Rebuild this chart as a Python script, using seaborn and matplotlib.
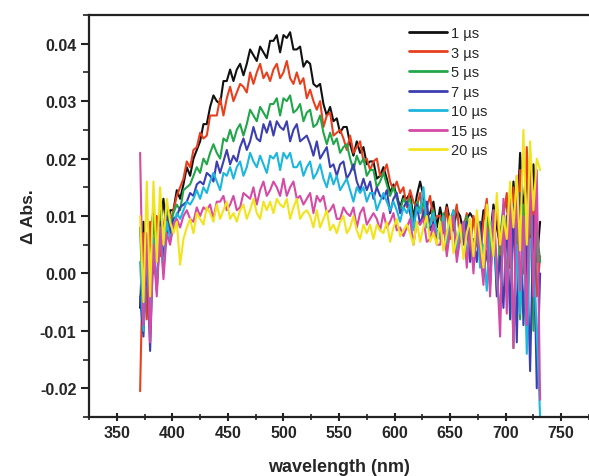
import numpy as np
import pandas as pd
import matplotlib
matplotlib.use("Agg")
import matplotlib.pyplot as plt
import seaborn as sns
from matplotlib.lines import Line2D

# wavelength grid (nm), 3 nm steps
wavelength = list(range(371, 732, 3))

# Delta Abs values in mAbs (x 1e-3); one row per 30 nm
abs_1us = [-6, 9, -2, 6, 11, 2, 8, 13, 7, 11,
           11, 14.5, 13, 15.5, 18.5, 17, 20, 21.5, 23, 26,
           26, 29, 31, 30, 29.5, 33.5, 33.5, 35.5, 33.5, 35.5,
           36.5, 34.5, 36.5, 39, 38, 37, 39.5, 38.5, 37.5, 40.5,
           40.5, 41.5, 38.5, 41.5, 41, 42, 39, 39, 39.5, 36,
           37, 36.5, 33, 32.5, 33, 29.5, 27.5, 29, 26.5, 27,
           24.5, 25.5, 25.5, 22.5, 20.5, 23, 21, 22, 19, 19.5,
           19.5, 16.5, 17, 18.5, 16.5, 14, 15.5, 13.5, 11.5, 13.5,
           13, 14, 9.5, 13.5, 16, 13.5, 10, 10.5, 12.5, 8,
           11.5, 8.5, 12, 9, 7.5, 11, 10, 7, 9.5, 10.5,
           9.5, 7, 5.5, 11, 10, 6, 12, 8, 5, 11,
           13, 4, 16, 8, 21, 11, 17, 6, 19, 2,
           9]
abs_3us = [-20.5, 7, -8, 9, 0, 10, 3, 8, 12, 9,
           11, 13.5, 15, 16.5, 19.5, 18.5, 21.5, 22, 24.5, 23.5,
           24, 27.5, 27.5, 27.5, 30.5, 27.5, 30.5, 32.5, 30, 31.5,
           33, 32.5, 31.5, 35, 33, 35, 36.5, 34, 35, 33.5,
           35.5, 36.5, 34, 35, 37, 34, 33, 35, 33, 34,
           30.5, 32, 30, 28.5, 30, 25.5, 27.5, 28, 24, 24.5,
           25, 23.5, 21.5, 24, 21, 22, 23, 19.5, 20, 18,
           19.5, 20, 17, 17.5, 19, 16, 14.5, 16, 14, 15,
           11.5, 14.5, 12.5, 11.5, 14, 9, 11.5, 13.5, 9, 10,
           10, 7, 11.5, 6, 9, 12, 5.5, 8, 10.5, 4,
           10, 5, 3, 9, 13, 4, 7, 12, 2, 10,
           14, 1, 15, 4, 18, 0, 22, 7, 13, -4,
           3]
abs_5us = [8, -8, 5, -6, 10, 3, 11, 6, 12, 8,
           10.5, 12, 11, 14.5, 15, 15.5, 17, 18.5, 17.5, 20,
           19, 21, 22.5, 21, 20, 23.5, 23, 25, 23, 25,
           26, 24, 26, 28.5, 27.5, 26.5, 29, 28, 27, 29.5,
           29.5, 30.5, 27.5, 30.5, 30, 31, 28, 28.5, 29.5, 26.5,
           28, 28.5, 25.5, 26, 27.5, 24.5, 22.5, 24.5, 22.5, 23.5,
           21, 22, 22.5, 20, 18, 20.5, 19, 20, 17, 18,
           18, 15, 16, 17.5, 15.5, 13.5, 15, 13, 11, 13,
           12, 13, 8, 12.5, 11, 12.5, 8.5, 9, 11, 7,
           8, 10.5, 5, 9, 11, 4, 8.5, 6, 10, 3,
           4, 9, 7, 0, 10, 2, 11, -3, 6, 12,
           -3, 13, -13, 9, -8, 12, -4, 15, -10, 8,
           2]
abs_7us = [-4, -11, 3, -13.5, 6, -3, 9, 2, 10, 7,
           9.5, 10, 11.5, 12, 12.5, 14, 13.5, 15.5, 16, 15.5,
           17.5, 17, 16, 19.5, 17.5, 19.5, 21.5, 19, 20.5, 19.5,
           22, 23.5, 21.5, 23, 25.5, 23.5, 23, 26, 24.5, 26.5,
           24, 26.5, 25.5, 25, 26.5, 23, 25, 26, 23, 23.5,
           24, 22.5, 20.5, 23, 20, 21, 22, 18.5, 19, 17,
           19, 19.5, 16.5, 17.5, 19, 16, 14.5, 16.5, 14.5, 16,
           13, 15, 13.5, 13, 14.5, 10.5, 13, 14, 10.5, 11.5,
           12.5, 10.5, 8, 12, 8.5, 10.5, 12.5, 7.5, 9, 6,
           7, 9.5, 4, 8, 10, 3, 7.5, 5, 9, 2,
           6, 2, 9, 0, 4, -2, 10, -4, 3, -6,
           10, -8, 12, -12, 14, -9, 6, -17, 10, -20,
           0]
abs_10us = [2, -10, 5, -9, 6, -3, 8, 0, 9, 6,
            8, 10.5, 9.5, 11, 12.5, 12, 13, 14.5, 13, 15,
            14, 16, 17.5, 16, 14.5, 17.5, 17, 18.5, 16.5, 18.5,
            19.5, 17, 18.5, 21, 19.5, 18.5, 20.5, 19, 17.5, 20.5,
            20, 21, 18, 21, 20, 21, 18.5, 18.5, 19.5, 17,
            18.5, 19.5, 16.5, 17.5, 19, 16.5, 15, 17.5, 15.5, 17,
            14.5, 15.5, 16.5, 14.5, 12.5, 15, 14, 15, 12.5, 14,
            14, 11, 12.5, 14, 12.5, 11, 12.5, 11, 9, 11.5,
            10.5, 12, 7.5, 11.5, 10.5, 15, 8, 8.5, 10.5, 7,
            6, 10, 5, 8.5, 11, 4, 7.5, 9, 3, 7,
            3, 9, 1, 5, -3, 7, 10, -1, -7, 8,
            -4, 9, -11, 5, -7, 10, -14, 6, 3, -10,
            -25]
abs_15us = [21, -9, 7, -12, 5, -4, 8, -1, 7, 5,
            8.5, 9.5, 8, 10, 11, 9.5, 9, 11.5, 10, 11.5,
            11, 12, 9.5, 12.5, 12.5, 13.5, 11, 12, 13.5, 11,
            11.5, 14, 13.5, 13, 15, 12, 14.5, 16, 13.5, 14.5,
            16, 15, 13.5, 16.5, 13.5, 15, 16, 13, 13.5, 12,
            13, 14, 10.5, 13.5, 12.5, 13.5, 10.5, 11, 12, 9.5,
            9.5, 11.5, 10.5, 10, 11.5, 8, 10.5, 11.5, 8.5, 9.5,
            10.5, 9.5, 7.5, 10.5, 8, 9, 10.5, 7.5, 8, 6.5,
            8, 9.5, 5, 9, 8.5, 9.5, 5.5, 6, 8.5, 5,
            5, 9, 3, 7.5, 10, 2, 6, 9, 1, 8,
            0, 9, 4, -2, 8, -4, 11, 2, -11, 13,
            -7, 14, -13, 17, -3, 10, -9, 20, -4, 18,
            -22]
abs_20us = [10, -5, 16, -4, 16, 2, 15, 5, 13, 9,
            7, 9, 1.5, 6, 8, 9.5, 7, 10.5, 9.5, 8.5,
            11.5, 10.5, 9, 12, 9.5, 11, 12.5, 9.5, 10.5, 9,
            11, 12, 9.5, 11, 13, 10.5, 9.5, 12.5, 11, 12.5,
            10.5, 13, 12, 11.5, 13, 9.5, 11.5, 13, 9.5, 10.5,
            11, 10, 8, 11, 8, 9.5, 11, 7.5, 8.5, 7,
            9, 10, 7, 8, 10, 7.5, 6, 8.5, 7, 8.5,
            6, 8.5, 7.5, 7, 9, 5.5, 8, 9.5, 6.5, 7.5,
            8.5, 7, 5, 9, 5.5, 8, 10, 5.5, 7, 5,
            9, 4, 7, 10, 3.5, 6, 8.5, 2.5, 7, 9.5,
            3, 11, 6, 1, 12, 8, 3, 14, 5, 10,
            6, 16, 8, 17, 4, 25, 5, 23, 11, 20,
            18]

labels = ["1 \u00b5s", "3 \u00b5s", "5 \u00b5s", "7 \u00b5s", "10 \u00b5s", "15 \u00b5s", "20 \u00b5s"]
series = [abs_1us, abs_3us, abs_5us, abs_7us, abs_10us, abs_15us, abs_20us]
colors = ["#111111", "#e8401e", "#22a64a", "#3b3fb0", "#1db6dc", "#d54aa6", "#f2e41c"]

frames = []
for lab, vals in zip(labels, series):
    frames.append(pd.DataFrame({"wavelength": wavelength,
                                "dabs": np.asarray(vals, dtype=float) / 1000.0,
                                "delay": lab}))
df = pd.concat(frames, ignore_index=True)

sns.set_theme(style="ticks")
plt.rcParams['font.family'] = ['Liberation Sans', 'DejaVu Sans']

fig = plt.figure(figsize=(5.89, 4.77), dpi=100)
ax = fig.add_axes([89/589, 59/477, 500/589, 402/477])

sns.lineplot(data=df, x="wavelength", y="dabs", hue="delay", hue_order=labels,
             palette=colors, linewidth=1.5, ax=ax, legend=False, sort=False,
             estimator=None)

ax.set_xlim(325, 775)
ax.set_ylim(-0.025, 0.045)
ax.set_xticks(np.arange(350, 751, 50))
ax.set_xticks(np.arange(325, 776, 25), minor=True)
ax.set_yticks([-0.02, -0.01, 0.0, 0.01, 0.02, 0.03, 0.04])
ax.set_yticks(np.arange(-0.025, 0.0451, 0.005), minor=True)
ax.set_yticklabels(["-0.02", "-0.01", "0.00", "0.01", "0.02", "0.03", "0.04"])

for lab in ax.get_xticklabels() + ax.get_yticklabels():
    lab.set_fontweight("bold")
    lab.set_fontsize(11.5)

ax.tick_params(axis="both", which="major", direction="out", length=6, width=1.5, color="#222222", pad=3)
ax.tick_params(axis="both", which="minor", direction="out", length=4, width=1.2, color="#222222")
ax.tick_params(axis="x", which="both", direction="inout")

for sp in ["left", "bottom", "top"]:
    ax.spines[sp].set_linewidth(1.6)
    ax.spines[sp].set_color("#222222")
ax.spines["right"].set_visible(False)

ax.set_xlabel("wavelength (nm)", fontsize=13, fontweight="bold", labelpad=13)
ax.set_ylabel("\u0394 Abs.", fontsize=12.5, fontweight="bold", labelpad=3)

handles = [Line2D([0], [0], color=c, lw=2) for c in colors]
ax.legend(handles, labels, loc="upper left", bbox_to_anchor=(409/589, 1 - 27/477),
          bbox_transform=fig.transFigure, frameon=False, fontsize=10.5,
          handlelength=2.6, handletextpad=0.3, labelspacing=0.38, borderpad=0, borderaxespad=0)

fig.savefig("out.png", dpi=100)
